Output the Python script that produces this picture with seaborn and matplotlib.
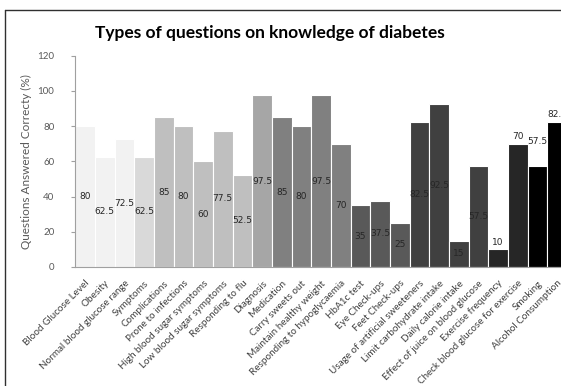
import matplotlib
matplotlib.use("Agg")
import matplotlib.pyplot as plt
from matplotlib.lines import Line2D
import seaborn as sns
import pandas as pd

# question categories and % answered correctly
questions = [
    "Blood Glucose Level", "Obesity", "Normal blood glucose range", "Symptoms",
    "Complications", "Prone to infections", "High blood sugar symptoms",
    "Low blood sugar symptoms", "Responding to flu", "Diagnosis", "Medication",
    "Carry sweets out", "Maintain healthy weight", "Responding to hypoglycaemia",
    "HbA1c test", "Eye Check-ups", "Feet Check-ups",
    "Usage of artificial sweeteners", "Limit carbohydrate intake",
    "Daily calorie intake", "Effect of juice on blood glucose",
    "Exercise frequency", "Check blood glucose for exercise", "Smoking",
    "Alcohol Consumption",
]
correct = [80, 62.5, 72.5, 62.5, 85, 80, 60, 77.5, 52.5, 97.5, 85, 80, 97.5, 70,
           35, 37.5, 25, 82.5, 92.5, 15, 57.5, 10, 70, 57.5, 82.5]
bar_colors = ["#f2f2f2"] * 3 + ["#d9d9d9"] + ["#bfbfbf"] * 5 + ["#a6a6a6"] + \
             ["#808080"] * 4 + ["#595959"] * 3 + ["#404040"] * 4 + \
             ["#262626"] * 2 + ["#000000"] * 2
# labels drawn above the bar instead of in its middle
labels_outside = ["Exercise frequency", "Check blood glucose for exercise",
                  "Smoking", "Alcohol Consumption"]

df = pd.DataFrame({"question": questions, "correct": correct})

sns.set_style("white")
plt.rcParams["font.family"] = ["Lato", "DejaVu Sans"]

fig = plt.figure(figsize=(5.61, 3.86), dpi=100)
ax = fig.add_axes([75.2 / 561, 119 / 386, 491.8 / 561, 211.3 / 386])

sns.barplot(data=df, x="question", y="correct", hue="question",
            palette=bar_colors, legend=False, width=1.0,
            edgecolor="white", linewidth=0.8, ax=ax)

# data labels
for i, (q, v) in enumerate(zip(questions, correct)):
    if q in labels_outside:
        y = v + 4
        if q == "Smoking":
            y = 71.5
    else:
        y = v / 2
    ax.text(i, y, f"{v:g}", ha="center", va="center", fontsize=6.5,
            family="DejaVu Sans", color="#262626")

ax.set_ylim(0, 120)
ax.set_yticks(range(0, 121, 20))
ax.set_xlim(-0.5, len(questions) - 0.5)
ax.set_xlabel("")
ax.set_ylabel("Questions Answered Correcty (%)", fontsize=8.5, color="#595959",
              labelpad=4)
ax.tick_params(axis="y", left=True, length=3, pad=12, labelsize=7,
               colors="#595959", color="#a0a0a0")
ax.tick_params(axis="x", bottom=False, pad=5)
ax.set_xticks(range(len(questions)))
ax.set_xticklabels(questions, rotation=45, ha="right", rotation_mode="anchor",
                   fontsize=7.1, color="#404040")
for s in ["top", "right"]:
    ax.spines[s].set_visible(False)
for s in ["left", "bottom"]:
    ax.spines[s].set_color("#a0a0a0")
    ax.spines[s].set_linewidth(0.8)

fig.text(270 / 561, 1 - 33 / 386, "Types of questions on knowledge of diabetes",
         ha="center", va="center", fontsize=12.5, fontweight="bold", color="black")

# chart frame (cropped on the right and bottom)
fig.add_artist(Line2D([5 / 561, 5 / 561], [0, 1 - 10 / 386], color="#303030",
                      lw=1.0, transform=fig.transFigure))
fig.add_artist(Line2D([5 / 561, 1], [1 - 10 / 386, 1 - 10 / 386], color="#303030",
                      lw=1.0, transform=fig.transFigure))

fig.savefig("out.png", dpi=100)
